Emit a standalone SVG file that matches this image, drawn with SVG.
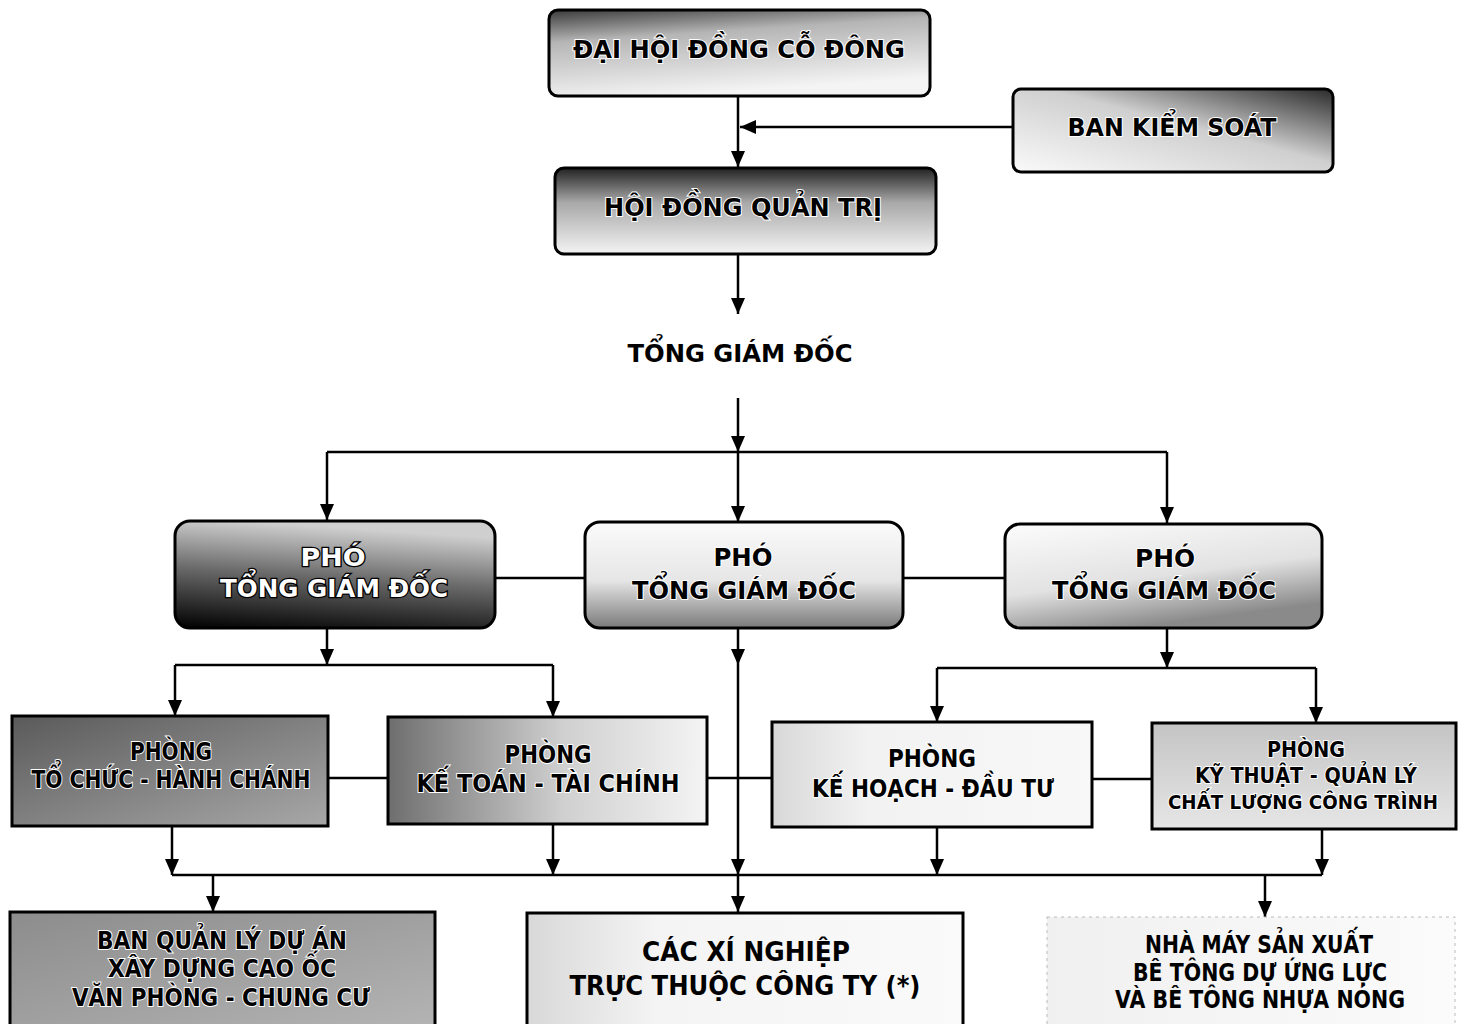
<svg xmlns="http://www.w3.org/2000/svg" width="1460" height="1024" viewBox="0 0 1460 1024">
<style>
.t{font-family:"DejaVu Sans","Liberation Sans",sans-serif;font-weight:bold;font-size:24px;text-anchor:middle;fill:#000}
.s{font-size:21px}
.xs{font-size:19px}
.w{paint-order:stroke;stroke:#fff;stroke-width:2px}
.inv{fill:#fff;paint-order:stroke;stroke:#000;stroke-width:2.5px}
.box{stroke:#000;stroke-width:3}
.c line,.c path{stroke:#000;stroke-width:2.5;fill:none}
</style>
<defs>
<marker id="ah" markerUnits="userSpaceOnUse" markerWidth="16" markerHeight="14" refX="16" refY="7" orient="auto"><path d="M0,0 L16,7 L0,14 z" fill="#000"/></marker>
<linearGradient id="gTop" x1="0" y1="0" x2="0.3" y2="1"><stop offset="0" stop-color="#3a3a3a"/><stop offset="0.35" stop-color="#b5b5b5"/><stop offset="1" stop-color="#f4f4f4"/></linearGradient>
<linearGradient id="gBks" x1="0" y1="1" x2="1" y2="0"><stop offset="0" stop-color="#fafafa"/><stop offset="0.55" stop-color="#cfcfcf"/><stop offset="1" stop-color="#2a2a2a"/></linearGradient>
<linearGradient id="gHd" x1="0" y1="0" x2="0" y2="1"><stop offset="0" stop-color="#222"/><stop offset="0.4" stop-color="#a8a8a8"/><stop offset="1" stop-color="#f4f4f4"/></linearGradient>
<linearGradient id="gP1" x1="0.2" y1="0" x2="0" y2="1"><stop offset="0" stop-color="#cfcfcf"/><stop offset="0.45" stop-color="#6a6a6a"/><stop offset="1" stop-color="#000"/></linearGradient>
<linearGradient id="gP2" x1="0" y1="0" x2="0" y2="1"><stop offset="0" stop-color="#fbfbfb"/><stop offset="0.55" stop-color="#e6e6e6"/><stop offset="1" stop-color="#7a7a7a"/></linearGradient>
<linearGradient id="gP3" x1="0" y1="0" x2="0.4" y2="1"><stop offset="0" stop-color="#fcfcfc"/><stop offset="0.6" stop-color="#e2e2e2"/><stop offset="1" stop-color="#8a8a8a"/></linearGradient>
<linearGradient id="gR1" x1="0" y1="0" x2="1" y2="1"><stop offset="0" stop-color="#5a5a5a"/><stop offset="1" stop-color="#a8a8a8"/></linearGradient>
<linearGradient id="gR2" x1="0" y1="0" x2="1" y2="0"><stop offset="0" stop-color="#6e6e6e"/><stop offset="0.55" stop-color="#d0d0d0"/><stop offset="1" stop-color="#f4f4f4"/></linearGradient>
<linearGradient id="gR3" x1="0" y1="0" x2="1" y2="0"><stop offset="0" stop-color="#d8d8d8"/><stop offset="0.3" stop-color="#f2f2f2"/><stop offset="1" stop-color="#f8f8f8"/></linearGradient>
<linearGradient id="gR4" x1="0" y1="0" x2="0" y2="1"><stop offset="0" stop-color="#c4c4c4"/><stop offset="1" stop-color="#e6e6e6"/></linearGradient>
<linearGradient id="gB1" x1="0" y1="0" x2="1" y2="1"><stop offset="0" stop-color="#8c8c8c"/><stop offset="1" stop-color="#b4b4b4"/></linearGradient>
<linearGradient id="gB2" x1="0" y1="0" x2="1" y2="0"><stop offset="0" stop-color="#d8d8d8"/><stop offset="0.3" stop-color="#f4f4f4"/><stop offset="1" stop-color="#fafafa"/></linearGradient>
<linearGradient id="gB3" x1="0" y1="0" x2="1" y2="0"><stop offset="0" stop-color="#f0f0f0"/><stop offset="1" stop-color="#fbfbfb"/></linearGradient>
</defs>
<rect width="1460" height="1024" fill="#fff"/>

<g class="c" id="connectors">
<line x1="738" y1="96" x2="738" y2="167" marker-end="url(#ah)"/>
<line x1="1012" y1="127" x2="740" y2="127" marker-end="url(#ah)"/>
<line x1="738" y1="254" x2="738" y2="314" marker-end="url(#ah)"/>
<line x1="738" y1="398" x2="738" y2="452" marker-end="url(#ah)"/>
<line x1="327" y1="452" x2="1167" y2="452"/>
<line x1="327" y1="452" x2="327" y2="520" marker-end="url(#ah)"/>
<line x1="738" y1="452" x2="738" y2="522" marker-end="url(#ah)"/>
<line x1="1167" y1="452" x2="1167" y2="523" marker-end="url(#ah)"/>
<line x1="495" y1="578" x2="585" y2="578"/>
<line x1="903" y1="578" x2="1005" y2="578"/>
<line x1="327" y1="628" x2="327" y2="665" marker-end="url(#ah)"/>
<line x1="175" y1="665" x2="553" y2="665"/>
<line x1="175" y1="665" x2="175" y2="716" marker-end="url(#ah)"/>
<line x1="553" y1="665" x2="553" y2="717" marker-end="url(#ah)"/>
<line x1="738" y1="628" x2="738" y2="665" marker-end="url(#ah)"/>
<line x1="738" y1="665" x2="738" y2="875" marker-end="url(#ah)"/>
<line x1="738" y1="875" x2="738" y2="912" marker-end="url(#ah)"/>
<line x1="1167" y1="628" x2="1167" y2="668" marker-end="url(#ah)"/>
<line x1="937" y1="668" x2="1316" y2="668"/>
<line x1="937" y1="668" x2="937" y2="722" marker-end="url(#ah)"/>
<line x1="1316" y1="668" x2="1316" y2="723" marker-end="url(#ah)"/>
<line x1="328" y1="778" x2="388" y2="778"/>
<line x1="707" y1="778" x2="772" y2="778"/>
<line x1="1092" y1="779" x2="1152" y2="779"/>
<line x1="172" y1="826" x2="172" y2="875" marker-end="url(#ah)"/>
<line x1="553" y1="824" x2="553" y2="875" marker-end="url(#ah)"/>
<line x1="937" y1="827" x2="937" y2="875" marker-end="url(#ah)"/>
<line x1="1322" y1="829" x2="1322" y2="875" marker-end="url(#ah)"/>
<line x1="172" y1="875" x2="1322" y2="875"/>
<line x1="213" y1="875" x2="213" y2="912" marker-end="url(#ah)"/>
<line x1="1265" y1="875" x2="1265" y2="917" marker-end="url(#ah)"/>
</g>

<g id="dai-hoi-dong-co-dong">
<rect class="box" x="549" y="10" width="381" height="86" rx="9" fill="url(#gTop)"/>
<text class="t w" x="739" y="58" textLength="332" lengthAdjust="spacingAndGlyphs">ĐẠI HỘI ĐỒNG CỖ ĐÔNG</text>
</g>
<g id="ban-kiem-soat">
<rect class="box" x="1013" y="89" width="320" height="83" rx="8" fill="url(#gBks)"/>
<text class="t w" x="1172" y="136" textLength="209" lengthAdjust="spacingAndGlyphs">BAN KIỂM SOÁT</text>
</g>
<g id="hoi-dong-quan-tri">
<rect class="box" x="555" y="168" width="381" height="86" rx="9" fill="url(#gHd)"/>
<text class="t w" x="743" y="216" textLength="278" lengthAdjust="spacingAndGlyphs">HỘI ĐỒNG QUẢN TRỊ</text>
</g>
<g id="tong-giam-doc">
<text class="t" x="740" y="362" textLength="225" lengthAdjust="spacingAndGlyphs">TỔNG GIÁM ĐỐC</text>
</g>

<g id="pho-tgd-1">
<rect class="box" x="175" y="521" width="320" height="107" rx="15" fill="url(#gP1)"/>
<text class="t inv" x="333" y="566" textLength="65" lengthAdjust="spacingAndGlyphs">PHÓ</text>
<text class="t inv" x="334" y="597" textLength="228" lengthAdjust="spacingAndGlyphs">TỔNG GIÁM ĐỐC</text>
</g>
<g id="pho-tgd-2">
<rect class="box" x="585" y="522" width="318" height="106" rx="15" fill="url(#gP2)"/>
<text class="t w" x="743" y="566" textLength="59" lengthAdjust="spacingAndGlyphs">PHÓ</text>
<text class="t w" x="744" y="599" textLength="224" lengthAdjust="spacingAndGlyphs">TỔNG GIÁM ĐỐC</text>
</g>
<g id="pho-tgd-3">
<rect class="box" x="1005" y="524" width="317" height="104" rx="15" fill="url(#gP3)"/>
<text class="t w" x="1165" y="567" textLength="60" lengthAdjust="spacingAndGlyphs">PHÓ</text>
<text class="t w" x="1164" y="599" textLength="224" lengthAdjust="spacingAndGlyphs">TỔNG GIÁM ĐỐC</text>
</g>

<g id="phong-to-chuc">
<rect class="box" x="12" y="716" width="316" height="110" fill="url(#gR1)"/>
<text class="t w" x="171" y="760" textLength="82" lengthAdjust="spacingAndGlyphs">PHÒNG</text>
<text class="t w" x="171" y="788" textLength="279" lengthAdjust="spacingAndGlyphs">TỔ CHỨC - HÀNH CHÁNH</text>
</g>
<g id="phong-ke-toan">
<rect class="box" x="388" y="717" width="319" height="107" fill="url(#gR2)"/>
<text class="t w" x="548" y="763" textLength="87" lengthAdjust="spacingAndGlyphs">PHÒNG</text>
<text class="t w" x="548" y="792" textLength="263" lengthAdjust="spacingAndGlyphs">KẾ TOÁN - TÀI CHÍNH</text>
</g>
<g id="phong-ke-hoach">
<rect class="box" x="772" y="722" width="320" height="105" fill="url(#gR3)"/>
<text class="t w" x="932" y="767" textLength="88" lengthAdjust="spacingAndGlyphs">PHÒNG</text>
<text class="t w" x="933" y="797" textLength="242" lengthAdjust="spacingAndGlyphs">KẾ HOẠCH - ĐẦU TƯ</text>
</g>
<g id="phong-ky-thuat">
<rect class="box" x="1152" y="723" width="304" height="106" fill="url(#gR4)"/>
<text class="t s w" x="1306" y="757" textLength="78" lengthAdjust="spacingAndGlyphs">PHÒNG</text>
<text class="t s w" x="1306" y="783" textLength="222" lengthAdjust="spacingAndGlyphs">KỸ THUẬT - QUẢN LÝ</text>
<text class="t xs w" x="1303" y="809" textLength="270" lengthAdjust="spacingAndGlyphs">CHẤT LƯỢNG CÔNG TRÌNH</text>
</g>

<g id="ban-quan-ly-du-an">
<rect class="box" x="10" y="912" width="425" height="116" fill="url(#gB1)"/>
<text class="t w" x="222" y="949" textLength="250" lengthAdjust="spacingAndGlyphs">BAN QUẢN LÝ DỰ ÁN</text>
<text class="t w" x="222" y="977" textLength="228" lengthAdjust="spacingAndGlyphs">XÂY DỰNG CAO ỐC</text>
<text class="t w" x="221" y="1006" textLength="298" lengthAdjust="spacingAndGlyphs">VĂN PHÒNG - CHUNG CƯ</text>
</g>
<g id="cac-xi-nghiep">
<rect class="box" x="527" y="913" width="436" height="115" fill="url(#gB2)"/>
<text class="t" x="746" y="961" textLength="208" lengthAdjust="spacingAndGlyphs" style="font-size:26px">CÁC XÍ NGHIỆP</text>
<text class="t" x="745" y="995" textLength="351" lengthAdjust="spacingAndGlyphs" style="font-size:26px">TRỰC THUỘC CÔNG TY (*)</text>
</g>
<g id="nha-may">
<rect x="1047" y="917" width="408" height="111" fill="url(#gB3)" stroke="#bbb" stroke-width="1" stroke-dasharray="3 4"/>
<text class="t" x="1259" y="953" textLength="228" lengthAdjust="spacingAndGlyphs">NHÀ MÁY SẢN XUẤT</text>
<text class="t" x="1260" y="981" textLength="254" lengthAdjust="spacingAndGlyphs">BÊ TÔNG DỰ ỨNG LỰC</text>
<text class="t" x="1260" y="1008" textLength="290" lengthAdjust="spacingAndGlyphs">VÀ BÊ TÔNG NHỰA NÓNG</text>
</g>
</svg>
